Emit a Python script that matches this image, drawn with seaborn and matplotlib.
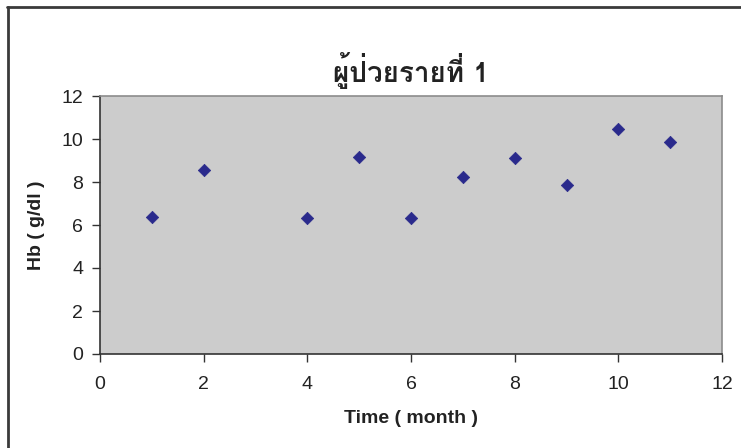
import matplotlib
matplotlib.use("Agg")
import matplotlib.pyplot as plt
import seaborn as sns
import pandas as pd
from matplotlib import font_manager as fm
from matplotlib.lines import Line2D

# ---- data ----
months = [1, 2, 4, 5, 6, 7, 8, 9, 10, 11]
hb = [6.37, 8.54, 6.32, 9.16, 6.32, 8.21, 9.10, 7.86, 10.47, 9.84]
x_ticks = [0, 2, 4, 6, 8, 10, 12]
y_ticks = [0, 2, 4, 6, 8, 10, 12]
title = "ผู้ป่วยรายที่ 1"
xlabel = "Time ( month )"
ylabel = "Hb ( g/dl )"

# ---- find a font with Thai glyphs ----
thai_families = []
try:
    from fontTools.ttLib import TTFont
    for f in fm.fontManager.ttflist:
        try:
            t = TTFont(f.fname, fontNumber=0, lazy=True)
            cmap = t.getBestCmap()
            if cmap and 0x0E1C in cmap and f.name not in thai_families:
                thai_families.append(f.name)
        except Exception:
            pass
except Exception:
    pass

sns.set_style("white")
plt.rcParams['font.family'] = ['Liberation Sans', 'DejaVu Sans']

df = pd.DataFrame({"month": months, "hb": hb})

fig = plt.figure(figsize=(7.41, 4.48), dpi=100)
ax = fig.add_axes([100/741, 1-354/448, 622/741, 258/448])
ax.set_facecolor("#cccccc")

sns.scatterplot(data=df, x="month", y="hb", marker="D", s=40,
                color="#2a2a8c", edgecolor="#2a2a8c", linewidth=0.5, ax=ax, zorder=3)

ax.set_xlim(0, 12)
ax.set_ylim(0, 12)
ax.set_xticks(x_ticks)
ax.set_yticks(y_ticks)
ax.tick_params(axis='both', direction='out', length=6, width=1, color="#333333",
               labelsize=14, labelcolor="#222222", left=True, bottom=True)
ax.tick_params(axis='x', pad=10)
ax.tick_params(axis='y', pad=6)
for s in ['left', 'bottom']:
    ax.spines[s].set_color("#333333")
    ax.spines[s].set_linewidth(1.2)
for s in ['top', 'right']:
    ax.spines[s].set_color("#8c8c8c")
    ax.spines[s].set_linewidth(1.2)

ax.set_xlabel(xlabel, fontsize=14, fontweight='bold', color="#222222", labelpad=12)
ax.set_ylabel(ylabel, fontsize=14, fontweight='bold', color="#222222", labelpad=12)

fam = thai_families + ['Liberation Sans', 'DejaVu Sans']
fig.text(411/741, 1-71/448, title, ha='center', va='center', fontsize=20,
         fontweight='bold', color="#222222", family=fam)

# outer frame (top and left only visible)
fig.add_artist(Line2D([7/741, 1], [1-7/448, 1-7/448], transform=fig.transFigure,
                      color="#3a3a3a", linewidth=2))
fig.add_artist(Line2D([8/741, 8/741], [0, 1-7/448], transform=fig.transFigure,
                      color="#3a3a3a", linewidth=2))

fig.savefig("out.png", dpi=100, facecolor="white")
